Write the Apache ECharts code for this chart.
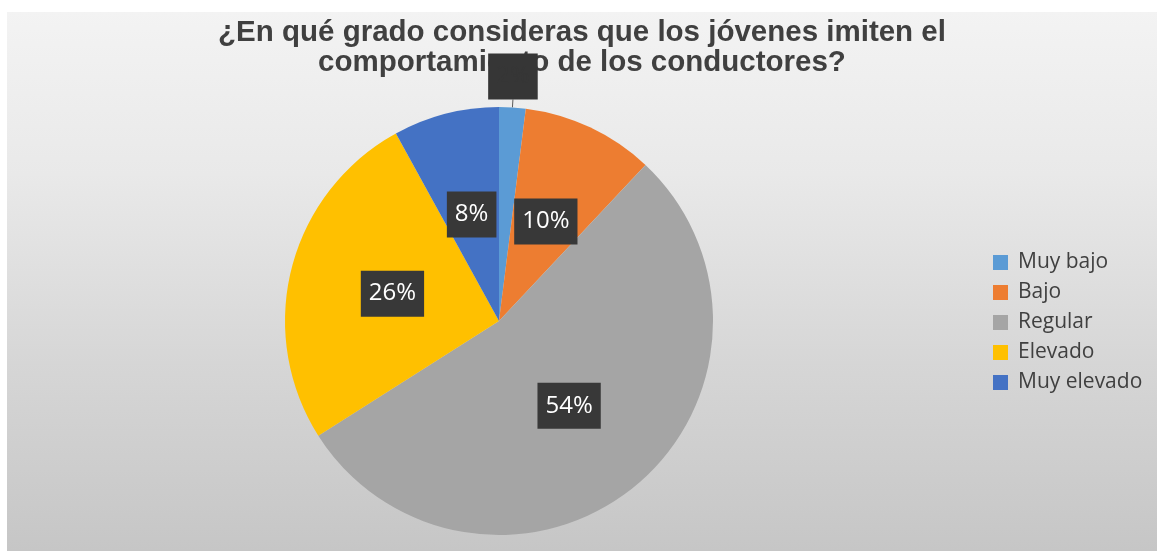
<!DOCTYPE html>
<html>
<head>
<meta charset="utf-8">
<script src="https://cdn.jsdelivr.net/npm/echarts@6/dist/echarts.min.js"></script>
<style>
  html, body { margin: 0; padding: 0; background: #ffffff; }
  #wrap { position: relative; width: 1157px; height: 551px; overflow: hidden; background: #ffffff; }
  #chart {
    position: absolute; left: 7px; top: 12px; width: 1150px; height: 539px;
    background: linear-gradient(to bottom, #f3f3f3 0%, #e9e9e9 30%, #d6d6d6 65%, #c6c6c6 100%);
  }
</style>
</head>
<body>
<div id="wrap"><div id="chart"></div></div>
<script>
const titleText = '¿En qué grado consideras que los jóvenes imiten el\ncomportamiento de los conductores?';
const categories = ['Muy bajo', 'Bajo', 'Regular', 'Elevado', 'Muy elevado'];
const values = [2, 10, 54, 26, 8];
const colors = ['#5B9BD5', '#ED7D31', '#A5A5A5', '#FFC000', '#4472C4'];

const chart = echarts.init(document.getElementById('chart'), null, { renderer: 'canvas' });

const labelBase = {
  show: true,
  position: 'inside',
  formatter: p => p.value + '%',
  color: '#ffffff',
  fontFamily: 'Open Sans',
  fontSize: 24,
  lineHeight: 26,
  backgroundColor: '#383838',
  padding: [10, 8, 10, 8]
};

const data = categories.map((name, i) => {
  const item = { name: name, value: values[i], itemStyle: { color: colors[i] } };
  if (i === 0) {
    item.label = Object.assign({}, labelBase, {
      position: 'outside',
      color: '#363636',
      backgroundColor: '#363636'
    });
    item.labelLine = { show: true, length: 8, length2: 0, lineStyle: { color: '#595959', width: 1 } };
  }
  return item;
});

chart.setOption({
  animation: false,
  title: {
    text: titleText,
    left: 'center',
    top: 6,
    padding: 0,
    z: 6,
    textStyle: {
      fontFamily: 'Liberation Sans',
      fontWeight: 'bold',
      fontSize: 29.5,
      lineHeight: 30,
      color: '#404040'
    }
  },
  legend: {
    orient: 'vertical',
    left: 981,
    top: 235,
    itemWidth: 15,
    itemHeight: 15,
    itemGap: 9,
    icon: 'rect',
    data: categories,
    textStyle: {
      fontFamily: 'Open Sans',
      fontSize: 21,
      lineHeight: 20,
      color: '#404040',
      padding: [0, 0, 0, 5]
    }
  },
  series: [{
    type: 'pie',
    z: 8,
    center: [492, 309],
    radius: 214,
    startAngle: 90,
    clockwise: true,
    avoidLabelOverlap: false,
    label: labelBase,
    labelLine: { show: false },
    labelLayout: function (params) {
      if (params.dataIndex === 0 && params.labelLinePoints) {
        const pts = params.labelLinePoints;
        const end = pts[pts.length - 1];
        return { x: end[0], y: end[1], align: 'center', verticalAlign: 'bottom' };
      }
      return {};
    },
    itemStyle: { borderWidth: 0 },
    emphasis: { disabled: true },
    data: data
  }]
});
</script>
</body>
</html>
